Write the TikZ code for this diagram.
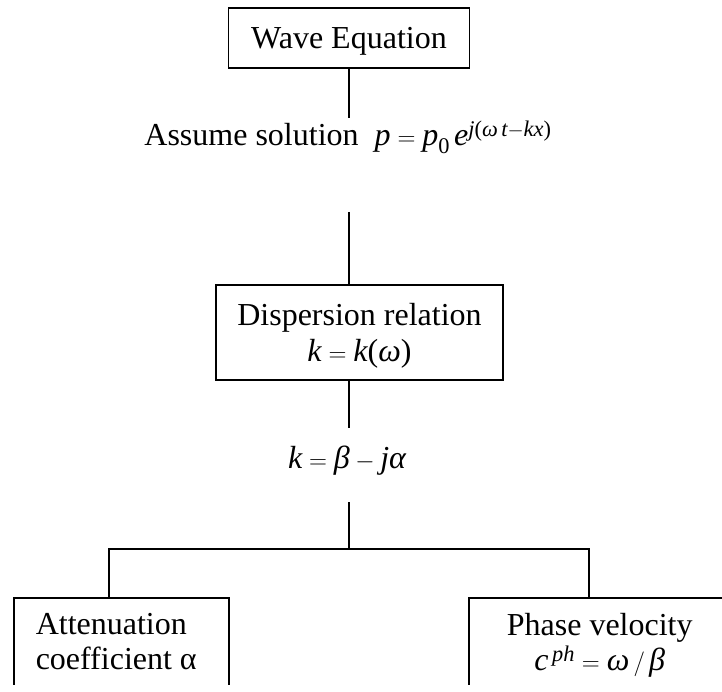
\documentclass[tikz,border=0pt]{standalone}
\usepackage{amsmath}
\usepackage{fontspec}
\setmainfont{Liberation Serif}
\newcommand{\mv}[1]{\textit{#1}}

\begin{document}
\begin{tikzpicture}[x=1pt, y=-1pt, line width=1.5pt,
    every node/.style={font=\fontsize{32}{36}\selectfont},
    box/.style={draw, line width=1.5pt, inner xsep=22pt},
    leaf/.style={box, anchor=north west, inner ysep=16pt, text depth=60pt}]
  \useasboundingbox (0,0) rectangle (722,692);
  \clip (0,0) rectangle (722,684);

  \node[box, minimum width=241pt, minimum height=60pt, text depth=0pt] (wave) at (349,38) {Wave Equation};
  \node[anchor=base] (assume) at (348,146) {Assume solution\ \ $\mv{p} = \mv{p}_{\text{0}}\, \mv{e}^{\mv{j}\text{(}\mv{ω}\,\mv{t} - \mv{kx}\text{)}}$};
  \node[box, inner xsep=8pt, minimum width=287pt, minimum height=95pt, text width=271pt, align=flush center, text depth=36pt] (disp) at (359.5,332.5) {Dispersion relation\\ $\mv{k} = \mv{k}\text{(}\mv{ω}\text{)}$};
  \node[anchor=base] (split) at (347,468) {$\mv{k} = \mv{β} - \mv{jα}$};
  \node[leaf, minimum width=215pt, text width=171pt, align=flush left] (atten) at (13,597) {Attenuation\\[-1pt] coefficient α};
  \node[leaf, minimum width=262pt, text width=218pt, align=flush center] (phase) at (468,597) {Phase velocity\\[-1pt] $\mv{c}^{\,\mv{ph}} = \mv{ω}\,/\,\mv{β}$};

  \coordinate (w1) at (349,118);
  \coordinate (d0) at (349,212);
  \coordinate (d1) at (349,428);
  \coordinate (k1) at (349,502);
  \coordinate (br) at (349,549);
  \coordinate (bl) at (109,549);
  \coordinate (bb) at (589,549);

  \draw (wave.south) -- (w1);
  \draw (d0) -- (d0 |- disp.north);
  \draw (d0 |- disp.south) -- (d1);
  \draw (k1) -- (br);
  \draw (bl |- atten.north) -- (bl) -- (bb) -- (bb |- phase.north);
\end{tikzpicture}
\end{document}
